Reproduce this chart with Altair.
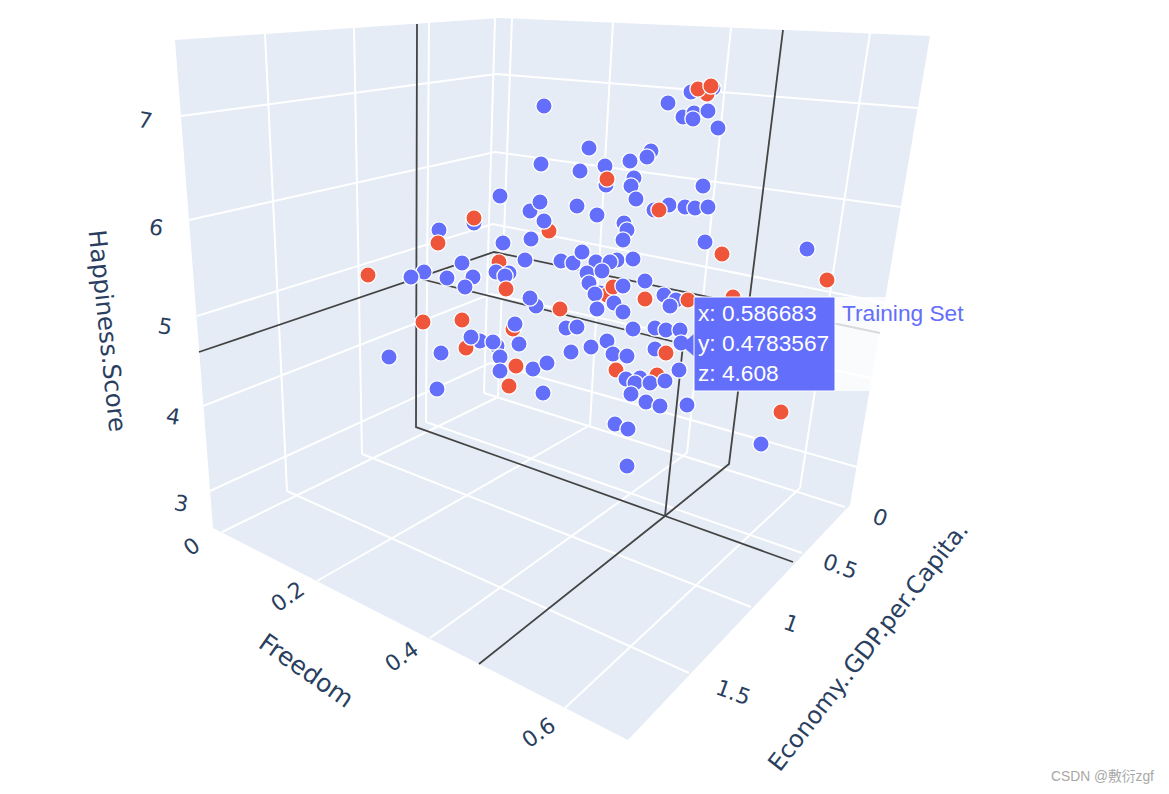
import altair as alt
import pandas as pd

# The reference is a 3-D scene; only its projected (screen) values can be read,
# so every series below is expressed in the projected coordinate system.
WIDTH, HEIGHT = 1153, 778

wall_y = [18, 36, 40, 505, 528, 740]
wall_left = [500, 234, 175, 211.2, 213, 628]
wall_right = [500, 930, 929.3, 850, 828.3, 628]

grid_lines = {
    "e15": [(287, 491), (689, 673)], "e10": [(362, 454), (751, 607)],
    "e05": [(426, 422), (802, 553)], "e00": [(484, 393), (845, 507)],
    "f00": [(222, 532), (498, 397)], "f02": [(317, 581), (590, 425)],
    "f04": [(430, 638), (687, 453)], "f06": [(565, 708), (800, 488)],
    "va": [(265, 34), (287, 491)], "vb": [(354, 28), (362, 454)],
    "vc": [(429, 23), (426, 422)], "vd": [(495, 18), (484, 393)],
    "r0": [(512, 18), (498, 397)], "r2": [(613, 22), (590, 425)],
    "r4": [(731, 28), (687, 453)], "r6": [(870, 33), (800, 488)],
    "h7": [(181, 116), (496, 74), (918, 108)],
    "h6": [(189, 220), (495, 152), (901, 207)],
    "h5": [(197, 316), (493, 224), (885, 303)],
    "h4": [(203, 406), (491, 294), (871, 378)],
    "h3": [(210, 491), (490, 363), (857, 467)],
}
spike_lines = {
    "a": [(417, 24), (416, 427), (665, 516), (793, 562)],
    "b": [(479, 664), (665, 516), (729, 464), (783, 30)],
    "c": [(665, 516), (683, 345)],
    "d": [(199, 352), (494, 252), (880, 333)],
    "e": [(417, 278), (683, 344)],
}

B, R = "Training Set", "Test Set"
point_x = [474, 474, 439, 438, 368, 424, 411, 462, 447, 473, 465, 503, 531, 530, 540, 549, 544,
           499, 525, 509, 496, 505, 506, 536, 530, 560, 423, 462, 513, 515, 480, 466, 471, 497, 493, 519,
           389, 441, 500, 500, 516, 533, 547, 437, 509, 543, 500,
           722, 561, 573, 582, 596, 617, 610, 633, 587, 602, 589,
           600, 607, 613, 595, 623, 614, 623, 597,
           645, 645, 664, 676, 670, 688, 733, 566, 577, 633, 655, 666, 680, 681,
           591, 607, 571, 613, 627, 655, 666, 679,
           616, 657, 640, 626, 635, 650, 665, 631, 646, 660, 687, 615, 628, 627, 761, 781,
           544, 668, 713, 707, 691, 698, 711, 683, 694, 693, 708, 718,
           589, 541, 580, 605, 606, 607, 630, 651, 647, 634, 631, 636,
           703, 669, 654, 659, 685, 695, 708, 577, 597, 624, 627, 623, 705, 807, 827]
point_y = [223, 218, 230, 243, 275, 272, 277, 263, 278, 277, 287, 243, 239, 211, 202, 231, 221,
           262, 260, 273, 272, 276, 289, 306, 298, 309, 322, 320, 329, 324, 341, 348, 337, 346, 342, 344,
           357, 353, 357, 371, 366, 369, 363, 389, 386, 393, 196,
           254, 261, 263, 252, 262, 260, 262, 259, 273, 271, 283,
           293, 295, 287, 294, 286, 303, 312, 309,
           281, 299, 295, 300, 306, 300, 297, 328, 327, 329, 328, 330, 330, 343,
           347, 341, 352, 354, 356, 349, 353, 370,
           370, 375, 378, 379, 383, 383, 381, 394, 402, 406, 405, 424, 429, 466, 444, 412,
           106, 103, 88, 94, 92, 89, 86, 117, 113, 119, 111, 128,
           148, 164, 171, 166, 185, 179, 161, 151, 157, 178, 186, 199,
           186, 205, 210, 210, 207, 208, 207, 206, 215, 223, 230, 240, 242, 249, 280]
point_set = [B, R, B, R, R, B, B, B, B, B, B, B, B, B, B, R, B,
             R, B, B, B, B, R, B, B, R, R, R, R, B, B, R, B, B, B, B,
             B, B, B, B, R, B, B, B, R, B, B,
             R, B, B, B, B, B, B, B, B, B, B,
             B, R, R, B, B, B, B, B,
             B, R, B, B, B, R, R, B, B, B, B, B, B, B,
             B, B, B, B, B, B, R, B,
             R, R, B, B, B, B, B, B, B, B, B, B, B, B, B, R,
             B, B, B, R, B, R, R, B, B, B, B, B,
             B, B, B, B, B, R, B, B, B, B, B, B,
             B, B, B, R, B, B, B, B, B, B, B, B, B, B, R]

z_ticks = ["7", "6", "5", "4", "3"]
z_tick_x = [145, 156, 165, 173, 181]
z_tick_y = [121, 228, 327, 417, 504]
freedom_ticks = ["0", "0.2", "0.4", "0.6"]
freedom_tick_x = [192, 288, 402, 539]
freedom_tick_y = [547, 597, 657, 733]
economy_ticks = ["0", "0.5", "1", "1.5"]
economy_tick_x = [880, 840, 791, 733]
economy_tick_y = [518, 567, 624, 693]

titles = ["Happiness.Score", "Freedom", "Economy..GDP.per.Capita."]
title_x = [106, 306, 869]
title_y = [331, 671, 647]
title_angle = [84, 35, 308]
title_size = [24.4, 25, 24]

hover_lines = ["x: 0.586683", "y: 0.4783567", "z: 4.608"]
hover_x = [698, 698, 698]
hover_y = [314, 344, 374]
hover_name = "Training Set"
watermark = "CSDN @敷衍zgf"

BLUE, RED = "#636EFA", "#EF553B"
X = alt.X("x:Q", axis=None, scale=alt.Scale(domain=[8, 8 + WIDTH], nice=False, zero=False))
Y = alt.Y("y:Q", axis=None, scale=alt.Scale(domain=[8 + HEIGHT, 8], nice=False, zero=False))


def polylines(lines):
    return pd.DataFrame(
        [{"line": k, "i": i, "x": p[0], "y": p[1]} for k, pts in lines.items() for i, p in enumerate(pts)]
    )


walls = alt.Chart(pd.DataFrame({"y": wall_y, "x": wall_left, "x2": wall_right})).mark_area(
    orient="horizontal", color="#E5ECF6", opacity=1
).encode(x=X, x2="x2:Q", y=Y)

grid = alt.Chart(polylines(grid_lines)).mark_line(color="white", strokeWidth=2).encode(
    x=X, y=Y, detail="line:N", order="i:Q"
)
spikes = alt.Chart(polylines(spike_lines)).mark_line(color="#444444", strokeWidth=1.8).encode(
    x=X, y=Y, detail="line:N", order="i:Q"
)

points = alt.Chart(pd.DataFrame({"x": point_x, "y": point_y, "set": point_set})).mark_point(
    filled=True, shape="circle", size=265, opacity=1, stroke="white", strokeWidth=1.3
).encode(
    x=X, y=Y,
    fill=alt.Fill("set:N", legend=None, scale=alt.Scale(domain=[B, R], range=[BLUE, RED])),
)


def labels(texts, xs, ys, size, angle, font="DejaVu Sans", color="#2a3f5f", align="center"):
    return alt.Chart(pd.DataFrame({"t": texts, "x": xs, "y": ys})).mark_text(
        font=font, fontSize=size, angle=angle, color=color, align=align, baseline="middle"
    ).encode(x=X, y=Y, text="t:N")


tick_layers = [
    labels(z_ticks, z_tick_x, z_tick_y, 22, 10),
    labels(freedom_ticks, freedom_tick_x, freedom_tick_y, 22, 325),
    labels(economy_ticks, economy_tick_x, economy_tick_y, 22, 20),
]
title_layers = [
    labels([t], [x], [y], s, a) for t, x, y, s, a in zip(titles, title_x, title_y, title_size, title_angle)
]

name_box = alt.Chart(pd.DataFrame({"x": [835], "x2": [968], "y": [297], "y2": [391]})).mark_rect(
    color="white", opacity=0.8
).encode(x=X, x2="x2:Q", y=Y, y2="y2:Q")
hover_box = alt.Chart(pd.DataFrame({"x": [694], "x2": [835], "y": [297], "y2": [391]})).mark_rect(
    color=BLUE, stroke="white", strokeWidth=1
).encode(x=X, x2="x2:Q", y=Y, y2="y2:Q")
hover_arrow = alt.Chart(pd.DataFrame({"x": [681, 695], "y": [345, 333], "y2": [345, 357]})).mark_area(
    color=BLUE, opacity=1
).encode(x=X, y=Y, y2="y2:Q")
hover_text = labels(hover_lines, hover_x, hover_y, 22.7, 0, font="Liberation Sans", color="white", align="left")
name_text = labels([hover_name], [842], [314], 22.7, 0, font="Liberation Sans", color=BLUE, align="left")
mark_text = labels([watermark], [1051], [777], 13.8, 0, font="Liberation Sans, Noto Sans CJK SC", color="#a8a8a8", align="left")

chart = alt.layer(
    walls, grid, spikes, points, *tick_layers, *title_layers,
    name_box, hover_arrow, hover_box, hover_text, name_text, mark_text,
).properties(
    width=WIDTH, height=HEIGHT, padding=0, background="white",
    autosize=alt.AutoSizeParams(type="none"),
).configure_view(stroke=None)

chart.save("out.html", embed_options={"renderer": "svg", "actions": False})
